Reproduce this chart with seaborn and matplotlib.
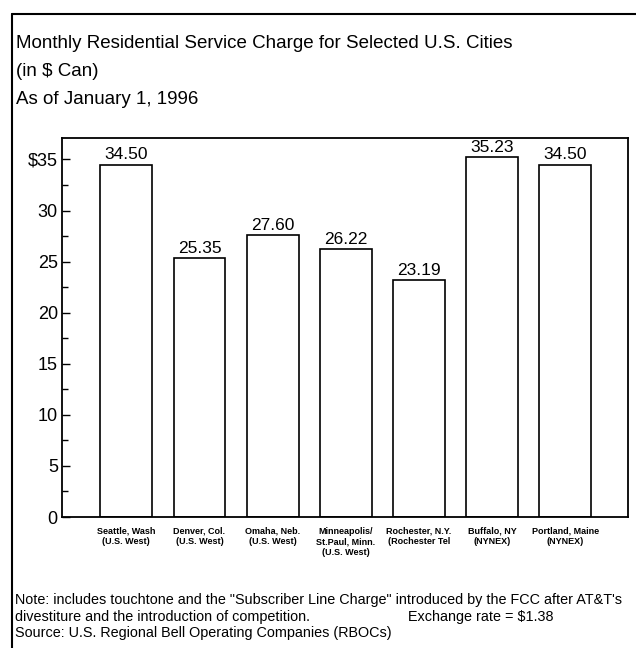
import pandas as pd
import numpy as np
import matplotlib
matplotlib.use("Agg")
import matplotlib.pyplot as plt
import seaborn as sns
from matplotlib.ticker import MultipleLocator, FuncFormatter

# data
cities = ["Seattle, Wash\n(U.S. West)", "Denver, Col.\n(U.S. West)", "Omaha, Neb.\n(U.S. West)",
          "Minneapolis/\nSt.Paul, Minn.\n(U.S. West)", "Rochester, N.Y.\n(Rochester Tel",
          "Buffalo, NY\n(NYNEX)", "Portland, Maine\n(NYNEX)"]
charges = [34.50, 25.35, 27.60, 26.22, 23.19, 35.23, 34.50]
value_labels = ["34.50", "25.35", "27.60", "26.22", "23.19", "35.23", "34.50"]

df = pd.DataFrame({"city": cities, "charge": charges})

sns.set_style("ticks")
plt.rcParams["font.family"] = ["Liberation Sans", "DejaVu Sans"]
plt.rcParams["text.color"] = "black"
plt.rcParams["xtick.color"] = "black"
plt.rcParams["ytick.color"] = "black"

fig = plt.figure(figsize=(6.36, 6.48), dpi=100)
ax = fig.add_axes([62 / 636, 131 / 648, 566 / 636, 379 / 648])

sns.barplot(data=df, x="city", y="charge", color="white", edgecolor="black",
            linewidth=1.2, width=0.71, ax=ax)

for i, (v, lab) in enumerate(zip(charges, value_labels)):
    ax.annotate(lab, (i, v), xytext=(0, 1.5), textcoords="offset points",
                ha="center", va="bottom", fontsize=12.5, annotation_clip=False,
                zorder=5)

ax.set_xlim(-0.88, 6.86)
ax.set_ylim(0, 37.1)
ax.yaxis.set_major_locator(MultipleLocator(5))
ax.yaxis.set_minor_locator(MultipleLocator(2.5))
ax.yaxis.set_major_formatter(FuncFormatter(lambda v, p: "$35" if v == 35 else f"{v:.0f}"))
ax.tick_params(axis="y", direction="in", length=6, width=1, labelsize=13, pad=3)
ax.tick_params(axis="y", which="minor", direction="in", length=4, width=1)
ax.tick_params(axis="x", length=0, labelsize=6.5, pad=7)
for lab in ax.get_xticklabels():
    lab.set_fontweight("bold")
    lab.set_linespacing(1.25)
ax.set_xlabel("")
ax.set_ylabel("")
for s in ax.spines.values():
    s.set_visible(True)
    s.set_linewidth(1.3)
    s.set_color("black")

# titles
fig.text(16 / 636, 1 - 44 / 648, "Monthly Residential Service Charge for Selected U.S. Cities",
         fontsize=13.5, va="center", ha="left")
fig.text(16 / 636, 1 - 72 / 648, "(in $ Can)", fontsize=13.5, va="center", ha="left")
fig.text(16 / 636, 1 - 100 / 648, "As of January 1, 1996", fontsize=13.5, va="center", ha="left")

# notes
note_fs = 10.4
fig.text(15 / 636, 1 - 600 / 648,
         "Note: includes touchtone and the \"Subscriber Line Charge\" introduced by the FCC after AT&T's",
         fontsize=note_fs, va="center", ha="left")
fig.text(15 / 636, 1 - 617 / 648, "divestiture and the introduction of competition.",
         fontsize=note_fs, va="center", ha="left")
fig.text(408 / 636, 1 - 617 / 648, "Exchange rate = $1.38", fontsize=note_fs, va="center", ha="left")
fig.text(15 / 636, 1 - 633 / 648, "Source: U.S. Regional Bell Operating Companies (RBOCs)",
         fontsize=note_fs, va="center", ha="left")

# outer frame
fig.add_artist(plt.Line2D([12 / 636, 12 / 636], [0, 1 - 14 / 648], color="black", lw=1.5))
fig.add_artist(plt.Line2D([12 / 636, 1], [1 - 14 / 648, 1 - 14 / 648], color="black", lw=1.5))

fig.savefig("out.png", dpi=100)
